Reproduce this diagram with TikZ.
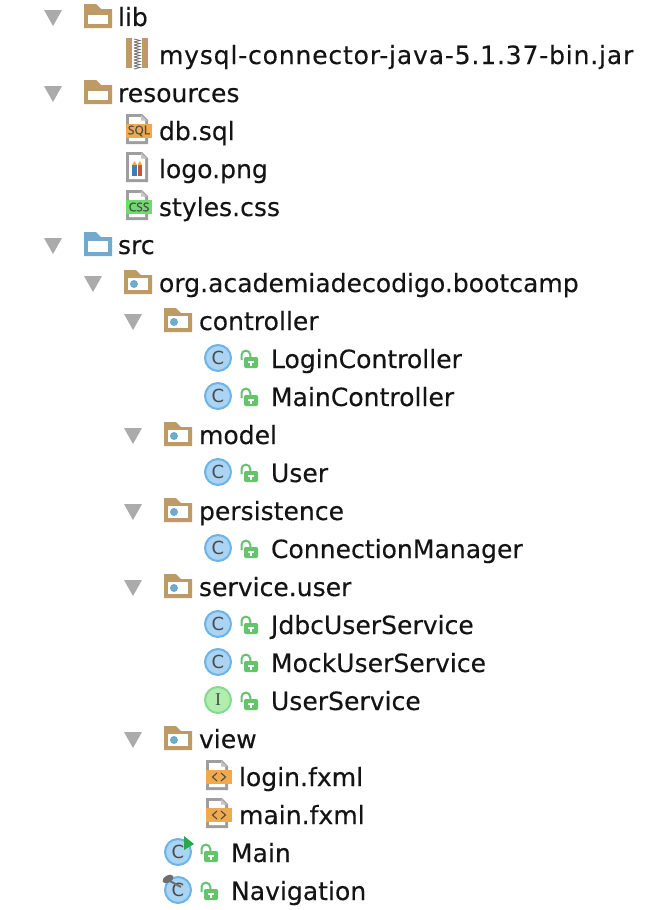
\documentclass[tikz,border=0pt]{standalone}
\usepackage{fontspec}
\setmainfont{DejaVu Sans}
\newfontfamily\badgefont{Open Sans}
\definecolor{tricol}{HTML}{ABABAB}
\definecolor{foldertan}{HTML}{BE9A66}
\definecolor{folderblue}{HTML}{74A9CE}
\definecolor{dotblue}{HTML}{6FAACF}
\definecolor{filegray}{HTML}{9E9E9E}
\definecolor{orangebadge}{HTML}{F0A94C}
\definecolor{greenbadge}{HTML}{6FDC6A}
\definecolor{classfill}{HTML}{A9D4F3}
\definecolor{classline}{HTML}{6DB3E6}
\definecolor{ifill}{HTML}{B2EDB0}
\definecolor{iline}{HTML}{83D98E}
\definecolor{lockgreen}{HTML}{65C36E}
\definecolor{glyph}{HTML}{4A4A4A}
\definecolor{runGreen}{HTML}{27A84A}
\definecolor{pinGray}{HTML}{6E6E6E}
\definecolor{pencilblue}{HTML}{3A7FB5}
\definecolor{pencilred}{HTML}{C8543A}
\tikzset{
  x=0.75pt, y=-0.75pt,
  rowlabel/.style={anchor=base west, inner sep=0pt, outer sep=0pt, text=black!92, font=\fontsize{18.8pt}{22pt}\selectfont\addfontfeature{FakeBold=0.25}},
  badgelabel/.style={inner sep=0pt, text=glyph, font=\badgefont\fontsize{9pt}{10pt}\selectfont\addfontfeature{FakeBold=0.8}},
  tri/.pic={\fill[tricol] (-9,-6) -- (9,-6) -- (0,10) -- cycle;},
  plainfolder/.pic={
    \fill[foldertan] (0,-12) -- (12,-12) -- (17,-7) -- (28,-7) -- (28,12) -- (0,12) -- cycle;
    \fill[white] (4,-1) rectangle (24,8);},
  srcfolder/.pic={
    \fill[folderblue] (0,-12) -- (12,-12) -- (17,-7) -- (28,-7) -- (28,12) -- (0,12) -- cycle;
    \fill[white] (4,-3) rectangle (24,8);},
  pkgfolder/.pic={
    \fill[foldertan] (0,-12) -- (12,-12) -- (17,-7) -- (28,-7) -- (28,12) -- (0,12) -- cycle;
    \fill[white] (4,-4) rectangle (24,8);
    \fill[dotblue] (10,2) circle[radius=4];},
  jar/.pic={
    \fill[foldertan] (0,-16) rectangle (22,14);
    \fill[white] (6,-16) rectangle (16,14);
    \foreach \k in {-15,-12,...,12}{
      \draw[glyph!80, line width=0.6pt] (8,\k) -- (14,\k+1.5) -- (8,\k+3);}
  },
  filebody/.pic={
    \fill[filegray] (0,-16) -- (16,-16) -- (22,-10) -- (22,14) -- (0,14) -- cycle;
    \fill[white] (3,-13) -- (15,-13) -- (19,-9) -- (19,11) -- (3,11) -- cycle;
    \fill[filegray!60] (15,-15) -- (21,-9.5) -- (15,-9.5) -- cycle;},
  imagefile/.pic={
    \pic {filebody};
    \fill[pencilblue] (6,-3) rectangle (11,8);
    \fill[pencilred] (11.5,-3) rectangle (16,8);
    \fill[orangebadge] (6,-3) -- (8.5,-7) -- (11,-3) -- cycle;
    \fill[orangebadge] (11.5,-3) -- (13.8,-7) -- (16,-3) -- cycle;},
  lock/.pic={
    \draw[lockgreen, line width=1.5pt] (1.5,2) -- (1.5,-3) arc[start angle=180, end angle=360, radius=4.4] -- (10.3,-1);
    \fill[lockgreen, rounded corners=1pt] (4,-1) rectangle (18,10);
    \fill[white] (8,2.5) rectangle (14,4.5);
    \fill[white] (10,2.5) rectangle (12,8);},
  classicon/.pic={
    \fill[classfill, draw=classline, line width=1.5pt] (0,0) circle[radius=13];
    \node[inner sep=0pt, text=glyph, font=\fontsize{13.5pt}{14pt}\selectfont] (-label) at (0,0) {C};},
  ifaceicon/.pic={
    \fill[ifill, draw=iline, line width=1.5pt] (0,0) circle[radius=13];
    \node[inner sep=0pt, text=glyph, font=\fontspec{Liberation Serif}\fontsize{13.5pt}{14pt}\selectfont] (-label) at (0,0) {I};},
  runmark/.pic={\fill[runGreen] (6,-16) -- (16,-8) -- (6,-2) -- cycle;},
  pinmark/.pic={
    \draw[pinGray, line width=1.5pt] (-10,-10) -- (3,-3);
    \fill[pinGray, rotate around={30:(-10,-11)}] (-10,-11) ellipse[x radius=6, y radius=3.5];},
}
\newcommand{\rowtext}[4]{\node[rowlabel] (#1) at (#2,#3+10) {#4};}
\newcommand{\classrow}[4]{%
  \pic (#1c) at (#2,#3) {#4};
  \pic at (#2+22,#3) {lock};}
\begin{document}
\begin{tikzpicture}
\useasboundingbox[fill=white] (0,0) rectangle (656,910);

% lib
\pic at (53,16) {tri};
\pic at (84,16) {plainfolder};
\rowtext{lib}{118}{16}{lib}
\pic at (126,54) {jar};
\rowtext{jarfile}{159}{54}{\addfontfeature{LetterSpace=3.2}mysql-connector-java-5.1.37-bin.jar}

% resources
\pic at (53,92) {tri};
\pic at (84,92) {plainfolder};
\rowtext{resources}{118}{92}{resources}
\pic at (126,130) {filebody};
\fill[orangebadge] (126,124) rectangle (152,138);
\node[badgelabel] (sqlbadge) at (139,131) {SQL};
\rowtext{dbsql}{159}{130}{db.sql}
\pic at (126,168) {imagefile};
\rowtext{logopng}{159}{168}{logo.png}
\pic at (126,206) {filebody};
\fill[greenbadge] (126,200) rectangle (152,214);
\node[badgelabel] (cssbadge) at (139,207) {CSS};
\rowtext{stylescss}{159}{206}{styles.css}

% src
\pic at (53,244) {tri};
\pic at (84,244) {srcfolder};
\rowtext{src}{118}{244}{src}
\pic at (93,282) {tri};
\pic at (124,282) {pkgfolder};
\rowtext{org}{159}{282}{org.academiadecodigo.bootcamp}

% controller
\pic at (133,320) {tri};
\pic at (164,320) {pkgfolder};
\rowtext{controller}{199}{320}{controller}
\classrow{login}{218}{358}{classicon}
\rowtext{logincontroller}{271}{358}{LoginController}
\classrow{mainc}{218}{396}{classicon}
\rowtext{maincontroller}{271}{396}{MainController}

% model
\pic at (133,434) {tri};
\pic at (164,434) {pkgfolder};
\rowtext{model}{199}{434}{model}
\classrow{user}{218}{472}{classicon}
\rowtext{userclass}{271}{472}{User}

% persistence
\pic at (133,510) {tri};
\pic at (164,510) {pkgfolder};
\rowtext{persistence}{199}{510}{persistence}
\classrow{conn}{218}{548}{classicon}
\rowtext{connectionmanager}{271}{548}{ConnectionManager}

% service.user
\pic at (133,586) {tri};
\pic at (164,586) {pkgfolder};
\rowtext{serviceuser}{199}{586}{service.user}
\classrow{jdbc}{218}{624}{classicon}
\rowtext{jdbcuserservice}{271}{624}{JdbcUserService}
\classrow{mock}{218}{662}{classicon}
\rowtext{mockuserservice}{271}{662}{MockUserService}
\classrow{usvc}{218}{700}{ifaceicon}
\rowtext{userservice}{271}{700}{UserService}

% view
\pic at (133,738) {tri};
\pic at (164,738) {pkgfolder};
\rowtext{view}{199}{738}{view}
\pic at (206,776) {filebody};
\fill[orangebadge] (206,770) rectangle (232,784);
\draw[glyph, line width=0.8pt] (217,773) -- (212.5,777) -- (217,781) (221,773) -- (225.5,777) -- (221,781);
\rowtext{loginfxml}{239}{776}{login.fxml}
\pic at (206,814) {filebody};
\fill[orangebadge] (206,808) rectangle (232,822);
\draw[glyph, line width=0.8pt] (217,811) -- (212.5,815) -- (217,819) (221,811) -- (225.5,815) -- (221,819);
\rowtext{mainfxml}{239}{814}{main.fxml}

% Main, Navigation
\classrow{mainm}{178}{852}{classicon}
\pic at (178,852) {runmark};
\rowtext{mainclass}{231}{852}{Main}
\classrow{nav}{178}{890}{classicon}
\pic at (178,890) {pinmark};
\rowtext{navigation}{231}{890}{Navigation}
\end{tikzpicture}
\end{document}
